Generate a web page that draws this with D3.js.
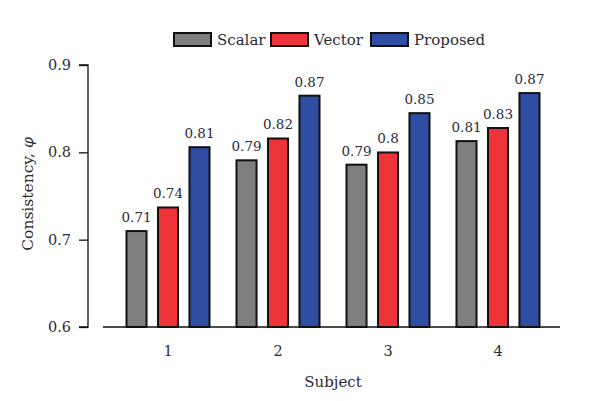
<!DOCTYPE html>
<html>
<head>
<meta charset="utf-8">
<script src="https://cdn.jsdelivr.net/npm/d3@7"></script>
<style>
  body { margin: 0; background: #fff; }
</style>
</head>
<body>
<svg id="chart" width="601" height="401"></svg>
<script>
// data
const subjects = ["1", "2", "3", "4"];
const seriesNames = ["Scalar", "Vector", "Proposed"];
const scalarValues = [0.711, 0.792, 0.787, 0.814];
const vectorValues = [0.738, 0.817, 0.801, 0.829];
const proposedValues = [0.807, 0.866, 0.846, 0.869];
const yTicks = [0.6, 0.7, 0.8, 0.9];

const colors = ["#7f7f7f", "#ee3438", "#2f4ea3"];
const allValues = [scalarValues, vectorValues, proposedValues];
const FONT = "DejaVu Serif";
const INK = "#2b2b35";

const svg = d3.select("#chart");

// scales
const x0 = d3.scaleBand().domain(subjects).range([113, 553]).padding(0);
const x1 = d3.scaleBand().domain(seriesNames).range([-42.5, 42.5]).paddingInner(0.3);
const y = d3.scaleLinear().domain([0.6, 0.9]).range([327, 65]);
const fmt = d3.format(".2~f");

// y axis
const yAxis = d3.axisLeft(y).tickValues(yTicks).tickSize(9).tickPadding(8).tickFormat(d3.format(".1f"));
const gy = svg.append("g").attr("transform", "translate(88,0)").call(yAxis);
gy.attr("font-family", FONT);
gy.select(".domain").attr("stroke", "#111").attr("stroke-width", 1.3).attr("d", "M-9,65H0V327H-9");
gy.selectAll(".tick line").attr("stroke", "#111").attr("stroke-width", 1.3);
gy.selectAll(".tick text").attr("font-size", 14.5).attr("fill", INK);

// x axis (no ticks)
const xAxis = d3.axisBottom(x0).tickSize(0).tickPadding(19);
const gx = svg.append("g").attr("transform", "translate(0,327)").call(xAxis);
gx.attr("font-family", FONT);
gx.select(".domain").attr("stroke", "#111").attr("stroke-width", 1.3).attr("d", "M103,0H560");
gx.selectAll(".tick text").attr("font-size", 14.5).attr("fill", INK);

// bars
const groups = svg.append("g").selectAll("g")
  .data(subjects)
  .join("g")
  .attr("transform", d => `translate(${x0(d) + x0.bandwidth() / 2},0)`);

groups.selectAll("rect")
  .data((d, i) => seriesNames.map((s, j) => ({ s, j, v: allValues[j][i] })))
  .join("rect")
  .attr("x", d => x1(d.s) + 1)
  .attr("y", d => y(d.v) + 1)
  .attr("width", x1.bandwidth() - 2)
  .attr("height", d => y(0.6) - y(d.v) - 1)
  .attr("fill", d => colors[d.j])
  .attr("stroke", "#111")
  .attr("stroke-width", 2);

groups.selectAll("text.val")
  .data((d, i) => seriesNames.map((s, j) => ({ s, j, v: allValues[j][i] })))
  .join("text")
  .attr("class", "val")
  .attr("x", d => x1(d.s) + x1.bandwidth() / 2)
  .attr("y", d => y(d.v) - 8)
  .attr("text-anchor", "middle")
  .attr("fill", INK)
  .attr("font-family", FONT)
  .attr("font-size", 13.5)
  .text(d => fmt(d.v));

// axis titles
svg.append("text")
  .attr("x", 333).attr("y", 387)
  .attr("text-anchor", "middle")
  .attr("fill", INK)
  .attr("font-family", FONT)
  .attr("font-size", 15)
  .text("Subject");

const yl = svg.append("text")
  .attr("transform", "translate(33,194) rotate(-90)")
  .attr("text-anchor", "middle")
  .attr("fill", INK)
  .attr("font-family", FONT)
  .attr("font-size", 15.5);
yl.append("tspan").text("Consistency, ");
yl.append("tspan").attr("font-style", "italic").text("φ");

// legend
const legendX = [174, 271, 371];
const legend = svg.append("g").selectAll("g")
  .data(seriesNames)
  .join("g")
  .attr("transform", (d, i) => `translate(${legendX[i]},33)`);
legend.append("rect")
  .attr("width", 37).attr("height", 13)
  .attr("fill", (d, i) => colors[i])
  .attr("stroke", "#111").attr("stroke-width", 2);
legend.append("text")
  .attr("x", 43).attr("y", 11.5)
  .attr("fill", INK)
  .attr("font-family", FONT)
  .attr("font-size", 15)
  .text(d => d);
</script>
</body>
</html>
